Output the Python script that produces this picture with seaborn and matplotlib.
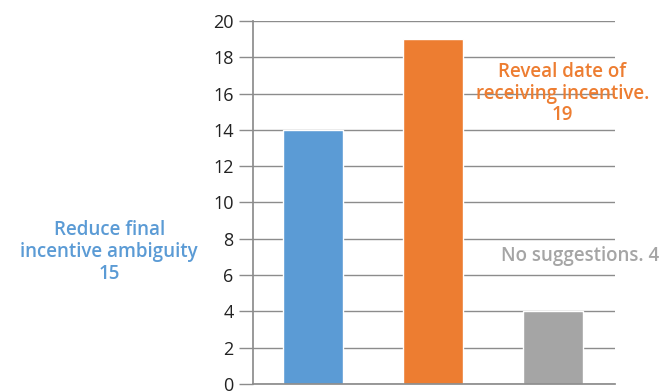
import matplotlib
matplotlib.use("Agg")
import matplotlib.pyplot as plt
import seaborn as sns
import pandas as pd

categories = ["Reduce final incentive ambiguity", "Reveal date of receiving incentive.", "No suggestions."]
values = [14, 19, 4]
label_texts = ["Reduce final\nincentive ambiguity\n15", "Reveal date of\nreceiving incentive.\n19", "No suggestions. 4"]
colors = ["#5B9BD5", "#ED7D31", "#A5A5A5"]
label_colors = ["#5B9BD5", "#ED7D31", "#A5A5A5"]
yticks = [0, 2, 4, 6, 8, 10, 12, 14, 16, 18, 20]

sns.set_theme(style="white")
plt.rcParams['font.family'] = ['Open Sans', 'DejaVu Sans']

df = pd.DataFrame({"cat": categories, "val": values})

fig = plt.figure(figsize=(6.71, 3.92), dpi=100)
ax = fig.add_axes([253/671, 8/392, 362/671, 363/392])
sns.barplot(data=df, x="cat", y="val", hue="cat", palette=colors, width=0.5,
            legend=False, ax=ax, saturation=1)
ax.set_ylim(0, 20)
ax.set_xlim(-0.5, 2.52)
ax.set_yticks(yticks)
ax.yaxis.grid(True, color="#8c8c8c", linewidth=1)
ax.set_axisbelow(True)
ax.set_xticks([])
ax.set_xlabel("")
ax.set_ylabel("")
for s in ["top", "right"]:
    ax.spines[s].set_visible(False)
ax.spines["left"].set_color("#8c8c8c")
ax.spines["bottom"].set_color("#8c8c8c")
ax.tick_params(axis="y", left=True, length=10, width=1, color="#8c8c8c",
               labelsize=13, labelcolor="#222222", pad=4)

# data labels
label_pos = [(-1.70, 7.27), (2.08, 16.0), (2.23, 7.05)]
for (x, y), txt, c in zip(label_pos, label_texts, label_colors):
    ax.text(x, y, txt, color=c, ha="center", va="center", fontsize=13.5,
            fontweight="semibold", linespacing=1.12, clip_on=False)

fig.savefig("out.png", dpi=100)
